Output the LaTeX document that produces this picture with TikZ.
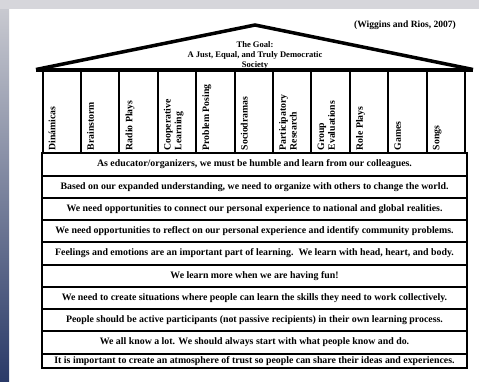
\documentclass[tikz,border=0pt]{standalone}
\usepackage{fontspec}
\setmainfont{Liberation Serif}
\definecolor{topgray}{RGB}{214,214,219}
\definecolor{striptop}{RGB}{200,201,208}
\definecolor{stripbot}{RGB}{42,58,104}
\tikzset{
  pillarline/.style={line width=2bp},
  rowbox/.style={draw, line width=2bp},
  rowtext/.style={font=\fontsize{9.9}{11}\selectfont\bfseries, inner sep=0pt},
  headtext/.style={font=\fontsize{9.8}{10.8}\selectfont\bfseries, inner sep=0pt, rotate=90, anchor=north west, align=left},
}
\begin{document}
\begin{tikzpicture}[x=1bp,y=-1bp]
\useasboundingbox (0,0) rectangle (479,381);
\fill[white] (0,0) rectangle (479,381);
\fill[topgray] (0,0) rectangle (479,9);
\shade[top color=striptop, bottom color=stripbot] (0,9) rectangle (9,381);
% citation
\node[font=\fontsize{9.6}{11}\selectfont\bfseries, inner sep=0pt] (cite) at (405,25) {(Wiggins and Rios, 2007)};
% goal text
\node[font=\fontsize{8.6}{10.3}\selectfont\bfseries, align=center, inner sep=0pt] (goal) at (255,55.5) {The Goal:\\A Just, Equal, and Truly Democratic\\Society};
% roof
\coordinate (eaveL) at (36,69.5);
\coordinate (apex) at (255,25);
\coordinate (eaveR) at (473,69.5);
\draw[line width=3.5bp, line join=miter] (eaveL) -- (apex) -- (eaveR);
\fill[white] (38,71.5) rectangle (471,153);
\draw[line width=4bp] (eaveL) -- (eaveR);
% pillars
\foreach \i in {0,...,11} {
  \draw[pillarline] ({42.5+\i*38.41},71) -- ({42.5+\i*38.41},154);
}
% pillar labels
\foreach \i/\t in {0/Dinámicas,1/Brainstorm,2/Radio Plays,3/Cooperative\\Learning,4/Problem Posing,5/Sociodramas,6/Participatory\\Research,7/Group\\Evaluations,8/Role Plays,9/Games,10/Songs} {
  \node[headtext] (h\i) at ({42.5+\i*38.41+6},150.5) {\t};
}
% rows
\foreach \k/\t in {
0/{As educator/organizers, we must be humble and learn from our colleagues.},
1/{Based on our expanded understanding, we need to organize with others to change the world.},
2/{We need opportunities to connect our personal experience to national and global realities.},
3/{We need opportunities to reflect on our personal experience and identify community problems.},
4/{Feelings and emotions are an important part of learning.\ \ We learn with head, heart, and body.},
5/{We learn more when we are having fun!},
6/{We need to create situations where people can learn the skills they need to work collectively.},
7/{People should be active participants (not passive recipients) in their own learning process.},
8/{We all know a lot. We should always start with what people know and do.}} {
  \draw[rowbox] (42,{153.3+\k*22.27}) rectangle (467,{153.3+(\k+1)*22.27});
  \node[rowtext] (r\k) at (254.5,{153.3+(\k+0.5)*22.27}) {\t};
}
\draw[rowbox] (42,353.7) rectangle (467,368);
\node[rowtext] (r9) at (254.5,361.3) {It is important to create an atmosphere of trust so people can share their ideas and experiences.};
\end{tikzpicture}
\end{document}
